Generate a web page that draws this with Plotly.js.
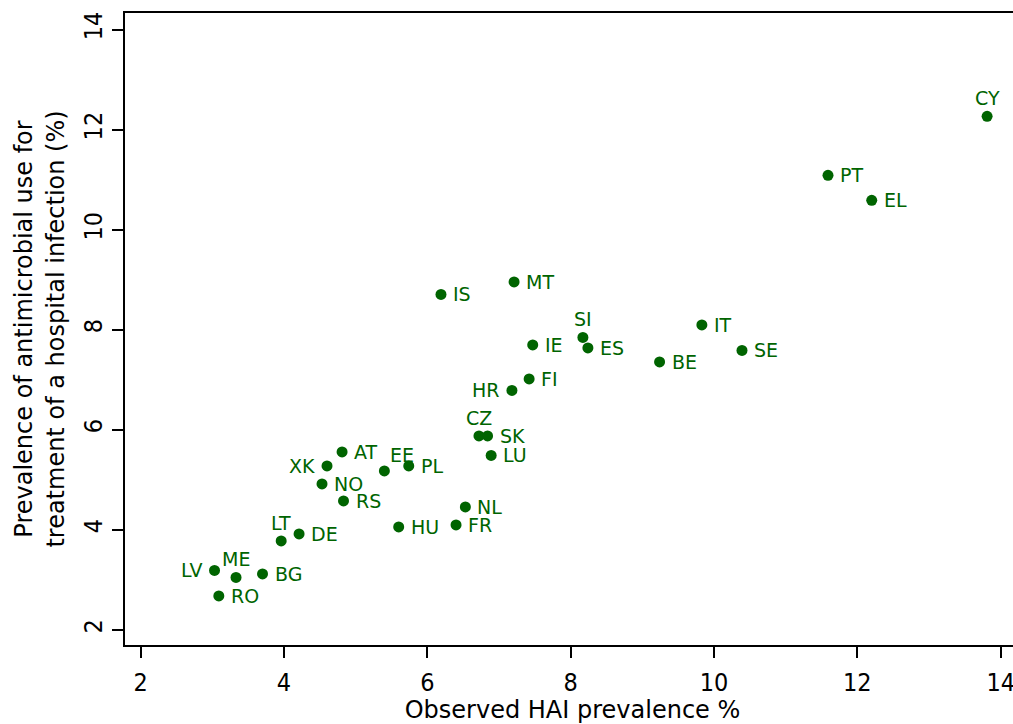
<!DOCTYPE html>
<html>
<head>
<meta charset="utf-8">
<script src="https://cdn.plot.ly/plotly-3.0.1.min.js"></script>
<style>
html,body{margin:0;padding:0;overflow:hidden;background:#fff;}
#chart{width:1020px;height:724px;}
</style>
</head>
<body>
<div id="chart"></div>
<script>
const countries = ["CY","PT","EL","IS","MT","SI","ES","IE","IT","SE","BE","FI","HR","CZ","SK","LU","AT","XK","EE","PL","NO","RS","NL","FR","HU","LT","DE","LV","ME","BG","RO"];
const haiPrevalence = [13.81,11.59,12.20,6.19,7.21,8.17,8.24,7.47,9.83,10.39,9.24,7.42,7.18,6.72,6.84,6.89,4.81,4.60,5.40,5.74,4.53,4.83,6.53,6.40,5.60,3.96,4.21,3.03,3.33,3.70,3.09];
const amuTreatment = [12.27,11.09,10.59,8.71,8.96,7.85,7.64,7.70,8.10,7.59,7.36,7.02,6.79,5.88,5.88,5.49,5.56,5.28,5.18,5.28,4.92,4.58,4.46,4.10,4.06,3.78,3.92,3.19,3.05,3.12,2.68];
const labelPos = ["top","right","right","right","right","top","right","right","right","right","right","right","left","top","right","right","right","left","topright","right","right","right","right","right","right","top","right","left","top","right","right"];
const xTicks = [2,4,6,8,10,12,14];
const yTicks = [2,4,6,8,10,12,14];

const green = "#006400";
const tickFam = "'DejaVu Sans Condensed', 'DejaVu Sans', sans-serif";
const textFam = "'DejaVu Sans', sans-serif";

const trace = {
  type: "scatter",
  mode: "markers",
  x: haiPrevalence,
  y: amuTreatment,
  marker: {color: green, size: 11, line: {width: 0}},
  cliponaxis: false,
  hoverinfo: "skip"
};

const placement = {
  right:    {xanchor: "left",   yanchor: "middle", xshift: 11,  yshift: 0},
  left:     {xanchor: "right",  yanchor: "middle", xshift: -11, yshift: 0},
  top:      {xanchor: "center", yanchor: "bottom", xshift: 0,   yshift: 6},
  topright: {xanchor: "left",   yanchor: "bottom", xshift: 5,   yshift: 4}
};

const annotations = countries.map((c, i) => Object.assign({
  x: haiPrevalence[i],
  y: amuTreatment[i],
  xref: "x",
  yref: "y",
  text: c,
  showarrow: false,
  borderpad: 0,
  font: {family: textFam, size: 19, color: green}
}, placement[labelPos[i]]));

const axisCommon = {
  showgrid: false,
  zeroline: false,
  showline: true,
  linecolor: "#000",
  linewidth: 2,
  ticks: "outside",
  ticklen: 11,
  tickwidth: 2,
  tickcolor: "#000",
  tickfont: {family: tickFam, size: 25, color: "#000"}
};

const layout = {
  width: 1020,
  height: 724,
  margin: {l: 125, r: 0, t: 13, b: 79},
  paper_bgcolor: "#fff",
  plot_bgcolor: "#fff",
  showlegend: false,
  annotations: annotations,
  xaxis: Object.assign({}, axisCommon, {
    range: [1.781, 14.269],
    tickvals: xTicks,
    ticktext: xTicks.map(String),
    mirror: true,
    ticklabelstandoff: 3,
    title: {text: "Observed HAI prevalence %", font: {family: textFam, size: 24, color: "#000"}, standoff: 3}
  }),
  yaxis: Object.assign({}, axisCommon, {
    range: [1.70, 14.336],
    tickvals: yTicks,
    ticktext: yTicks.map(String),
    tickangle: -90,
    title: {text: "Prevalence of antimicrobial use for<br>treatment of a hospital infection (%)", font: {family: textFam, size: 24, color: "#000"}, standoff: 8}
  })
};

Plotly.newPlot("chart", [trace], layout, {staticPlot: true, displayModeBar: false});
</script>
</body>
</html>
